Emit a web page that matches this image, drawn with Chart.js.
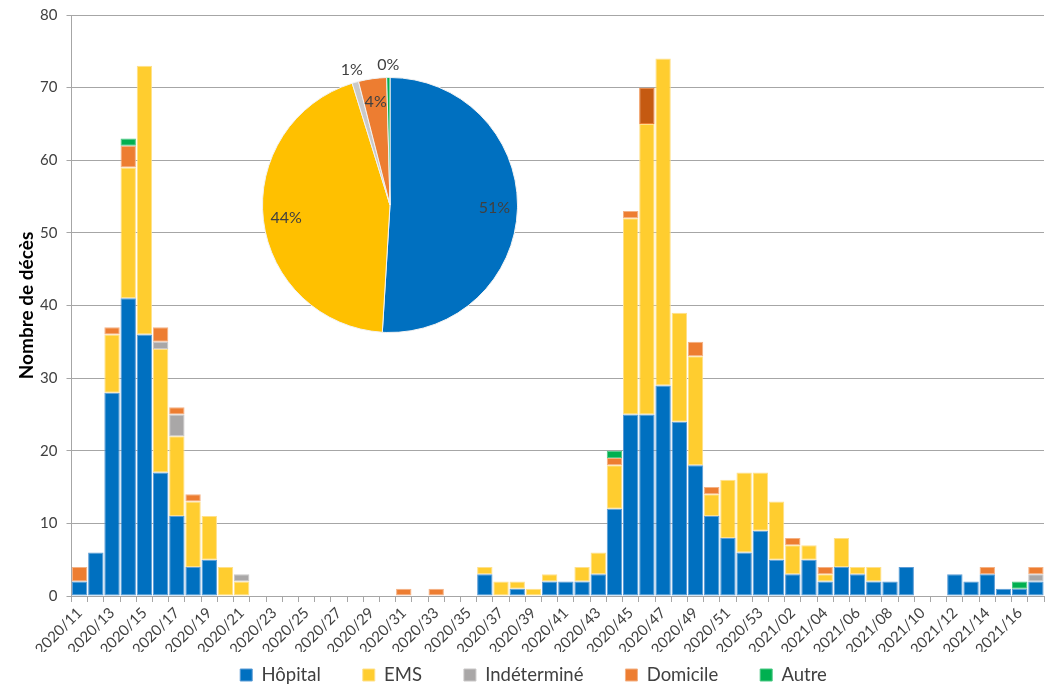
<!DOCTYPE html>
<html>
<head>
<meta charset="utf-8">
<script src="https://cdn.jsdelivr.net/npm/chart.js@4/dist/chart.umd.min.js"></script>
<style>
  html, body { margin: 0; padding: 0; background: #ffffff; }
  #wrap { position: relative; width: 1050px; height: 684px; }
  #bars { position: absolute; left: 0; top: 0; }
  #pie { position: absolute; left: 230px; top: 45px; }
</style>
</head>
<body>
<div id="wrap">
  <canvas id="bars" width="1050" height="684"></canvas>
  <canvas id="pie" width="320" height="320"></canvas>
</div>
<script>
// Weekly deaths by place of death
const weeks = [
  '2020/11','2020/12','2020/13','2020/14','2020/15','2020/16','2020/17','2020/18','2020/19','2020/20',
  '2020/21','2020/22','2020/23','2020/24','2020/25','2020/26','2020/27','2020/28','2020/29','2020/30',
  '2020/31','2020/32','2020/33','2020/34','2020/35','2020/36','2020/37','2020/38','2020/39','2020/40',
  '2020/41','2020/42','2020/43','2020/44','2020/45','2020/46','2020/47','2020/48','2020/49','2020/50',
  '2020/51','2020/52','2020/53','2021/01','2021/02','2021/03','2021/04','2021/05','2021/06','2021/07',
  '2021/08','2021/09','2021/10','2021/11','2021/12','2021/13','2021/14','2021/15','2021/16','2021/17'
];

const hopital = [
  2, 6, 28, 41, 36, 17, 11, 4, 5, 0,
  0, 0, 0, 0, 0, 0, 0, 0, 0, 0,
  0, 0, 0, 0, 0, 3, 0, 1, 0, 2,
  2, 2, 3, 12, 25, 25, 29, 24, 18, 11,
  8, 6, 9, 5, 3, 5, 2, 4, 3, 2,
  2, 4, 0, 0, 3, 2, 3, 1, 1, 2
];
const ems = [
  0, 0, 8, 18, 37, 17, 11, 9, 6, 4,
  2, 0, 0, 0, 0, 0, 0, 0, 0, 0,
  0, 0, 0, 0, 0, 1, 2, 1, 1, 1,
  0, 2, 3, 6, 27, 40, 45, 15, 15, 3,
  8, 11, 8, 8, 4, 2, 1, 4, 1, 2,
  0, 0, 0, 0, 0, 0, 0, 0, 0, 0
];
const indetermine = [
  0, 0, 0, 0, 0, 1, 3, 0, 0, 0,
  1, 0, 0, 0, 0, 0, 0, 0, 0, 0,
  0, 0, 0, 0, 0, 0, 0, 0, 0, 0,
  0, 0, 0, 0, 0, 0, 0, 0, 0, 0,
  0, 0, 0, 0, 0, 0, 0, 0, 0, 0,
  0, 0, 0, 0, 0, 0, 0, 0, 0, 1
];
const domicile = [
  2, 0, 1, 3, 0, 2, 1, 1, 0, 0,
  0, 0, 0, 0, 0, 0, 0, 0, 0, 0,
  1, 0, 1, 0, 0, 0, 0, 0, 0, 0,
  0, 0, 0, 1, 1, 5, 0, 0, 2, 1,
  0, 0, 0, 0, 1, 0, 1, 0, 0, 0,
  0, 0, 0, 0, 0, 0, 1, 0, 0, 1
];
const autre = [
  0, 0, 0, 1, 0, 0, 0, 0, 0, 0,
  0, 0, 0, 0, 0, 0, 0, 0, 0, 0,
  0, 0, 0, 0, 0, 0, 0, 0, 0, 0,
  0, 0, 0, 1, 0, 0, 0, 0, 0, 0,
  0, 0, 0, 0, 0, 0, 0, 0, 0, 0,
  0, 0, 0, 0, 0, 0, 0, 0, 1, 0
];

const seriesNames = ['Hôpital', 'EMS', 'Indéterminé', 'Domicile', 'Autre'];
const yTicks = [0, 10, 20, 30, 40, 50, 60, 70, 80];

const FONT = 'Lato, "Open Sans", sans-serif';
const TEXT = '#404040';
const GRID = '#A6A6A6';
const LEGEND_FONT = 18.5;
const LEGEND_GAP = 42;

// the week 2020/46 home-death segment is emphasised in a darker orange
const highlightIndex = weeks.indexOf('2020/46');

const nz = arr => arr.map(v => (v === 0 ? null : v));

const barStyles = [
  { bg: '#0070C0', border: '#5B9BD5' },
  { bg: '#FFCD2F', border: '#FFE08A' },
  { bg: '#A9A7A7', border: '#C9C7C7' },
  { bg: '#ED7D31', border: '#F4B183' },
  { bg: '#00B050', border: '#4CC985' }
];
const seriesData = [hopital, ems, indetermine, domicile, autre];

const barDatasets = seriesData.map((arr, i) => {
  const st = barStyles[i];
  const ds = {
    label: seriesNames[i],
    data: nz(arr),
    backgroundColor: st.bg,
    borderColor: st.border,
    borderWidth: 1,
    borderSkipped: false,
    barPercentage: 0.95,
    categoryPercentage: 1.0
  };
  if (seriesNames[i] === 'Domicile') {
    ds.backgroundColor = ctx => (ctx.dataIndex === highlightIndex ? '#C55A11' : st.bg);
    ds.borderColor = ctx => (ctx.dataIndex === highlightIndex ? '#ED7D31' : st.border);
  }
  return ds;
});

// keeps the legend row near the bottom edge while its items stay widely spaced
const legendPlacement = {
  id: 'legendPlacement',
  afterLayout(chart) {
    const lg = chart.legend;
    if (!lg) return;
    const centerY = chart.height - 9;
    lg.top = centerY - LEGEND_FONT / 2 - LEGEND_GAP;
    lg.bottom = chart.height;
    lg.height = lg.bottom - lg.top;
    lg.left += 7;
    lg.right += 7;
  }
};

new Chart(document.getElementById('bars'), {
  type: 'bar',
  data: { labels: weeks, datasets: barDatasets },
  options: {
    responsive: false,
    animation: false,
    devicePixelRatio: 1,
    layout: { padding: { left: 9, right: 6, top: 15, bottom: 0 } },
    plugins: {
      tooltip: { enabled: false },
      legend: {
        position: 'bottom',
        maxHeight: 32,
        labels: {
          boxWidth: 12,
          boxHeight: 12,
          padding: LEGEND_GAP,
          color: TEXT,
          font: { family: FONT, size: LEGEND_FONT }
        }
      }
    },
    scales: {
      x: {
        stacked: true,
        offset: true,
        grid: {
          display: true,
          drawOnChartArea: false,
          drawTicks: true,
          tickLength: 6,
          color: GRID,
          offset: true
        },
        border: { color: GRID, width: 1 },
        ticks: {
          autoSkip: false,
          maxRotation: 45,
          minRotation: 45,
          padding: 2,
          color: TEXT,
          font: { family: FONT, size: 15 },
          callback: (v, i) => (i % 2 === 0 ? weeks[i] : '')
        },
        afterFit: s => {
          s.height = 56;
          s.paddingLeft = 0;
          s.paddingRight = 0;
        }
      },
      y: {
        stacked: true,
        min: yTicks[0],
        max: yTicks[yTicks.length - 1],
        afterBuildTicks: s => { s.ticks = yTicks.map(v => ({ value: v })); },
        grid: { color: GRID, tickLength: 5, drawTicks: true },
        border: { color: GRID, width: 1 },
        ticks: {
          padding: 9,
          color: TEXT,
          font: { family: FONT, size: 15 }
        },
        title: {
          display: true,
          text: 'Nombre de décès',
          color: '#000000',
          font: { family: FONT, size: 19, weight: 'bold' },
          padding: { top: 6, bottom: 4 }
        },
        afterFit: s => {
          s.width = 62.5;
          s.paddingTop = 0;
          s.paddingBottom = 0;
        }
      }
    }
  },
  plugins: [legendPlacement]
});

// Share of each place of death over the whole period
const totals = seriesData.map(arr => arr.reduce((a, b) => a + b, 0));
const pieColors = ['#0070C0', '#FFC000', '#C9C9C9', '#ED7D31', '#00B050'];

const pieLabels = {
  id: 'pieLabels',
  afterDatasetsDraw(chart) {
    const ctx = chart.ctx;
    const meta = chart.getDatasetMeta(0);
    const values = chart.data.datasets[0].data;
    const sum = values.reduce((a, b) => a + b, 0);
    ctx.save();
    ctx.font = '16px ' + FONT;
    ctx.fillStyle = TEXT;
    ctx.textAlign = 'center';
    ctx.textBaseline = 'middle';
    meta.data.forEach((arc, i) => {
      const p = arc.getProps(['x', 'y', 'startAngle', 'endAngle', 'outerRadius'], true);
      const pct = Math.round(values[i] / sum * 100);
      const mid = (p.startAngle + p.endAngle) / 2;
      const r = pct < 2 ? p.outerRadius * 1.1 : p.outerRadius * 0.82;
      ctx.fillText(pct + '%', p.x + Math.cos(mid) * r, p.y + Math.sin(mid) * r);
    });
    ctx.restore();
  }
};

new Chart(document.getElementById('pie'), {
  type: 'pie',
  data: {
    labels: seriesNames,
    datasets: [{
      data: totals,
      backgroundColor: pieColors,
      borderColor: '#F2F2F2',
      borderWidth: 1
    }]
  },
  options: {
    responsive: false,
    animation: false,
    devicePixelRatio: 1,
    layout: { padding: 32 },
    plugins: { legend: { display: false }, tooltip: { enabled: false } }
  },
  plugins: [pieLabels]
});
</script>
</body>
</html>
